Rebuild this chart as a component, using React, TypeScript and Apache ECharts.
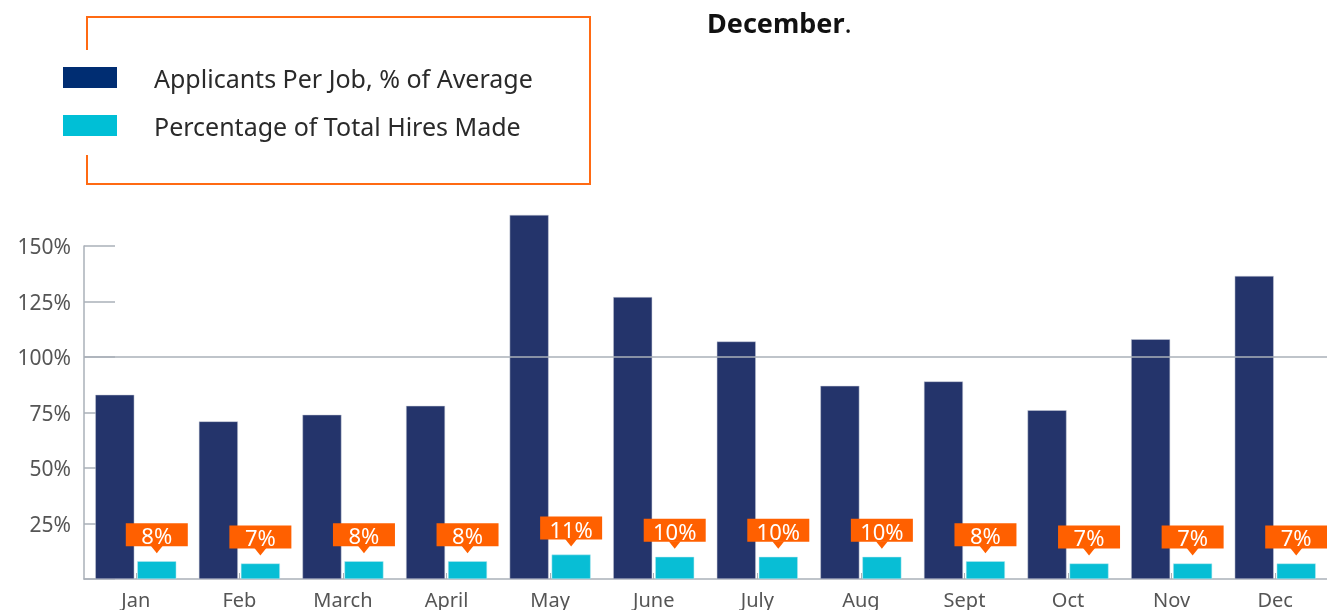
import React, { useEffect, useRef } from "react";
import * as echarts from "echarts";

const months = ["Jan", "Feb", "March", "April", "May", "June", "July", "Aug", "Sept", "Oct", "Nov", "Dec"];
const applicantsPerJob = [83, 71, 74, 78, 164, 127, 107, 87, 89, 76, 108, 136.5];
const hiresMade = [8, 7, 8, 8, 11, 10, 10, 10, 8, 7, 7, 7];
const seriesNames = ["Applicants Per Job, % of Average", "Percentage of Total Hires Made"];
const titleText = "December";

const FONT = "Noto Sans";
const BAR_W = 39;
const BAR_GAP = 3;

export default function App() {
  const ref = useRef<HTMLDivElement>(null);
  useEffect(() => {
    if (!ref.current) return;
    const chart = echarts.init(ref.current, null, { renderer: "svg" });
    const offset = (BAR_W + BAR_GAP) / 2;
    chart.setOption({
      animation: false,
      textStyle: { fontFamily: FONT },
      title: {
        text: `{b|${titleText}}{n|.}`,
        left: 707,
        top: 4,
        padding: 0,
        textStyle: {
          rich: {
            b: { fontFamily: FONT, fontWeight: "bold", fontSize: 27, color: "#111", lineHeight: 36 },
            n: { fontFamily: FONT, fontWeight: "normal", fontSize: 27, color: "#111", lineHeight: 36 },
          },
        },
      },
      legend: {
        orient: "vertical",
        left: 63,
        top: 65,
        padding: 0,
        itemWidth: 54,
        itemHeight: 21,
        itemGap: 23,
        icon: "rect",
        selectedMode: false,
        data: [
          { name: seriesNames[0], itemStyle: { color: "#002D72", borderWidth: 0 } },
          { name: seriesNames[1], itemStyle: { color: "#00BFD6", borderWidth: 0 } },
        ],
        textStyle: {
          fontFamily: FONT,
          fontSize: 25,
          color: "#2a2a2a",
          lineHeight: 21,
          padding: [0, 0, 0, 32],
        },
      },
      graphic: [
        {
          type: "polyline",
          shape: { points: [[87, 50], [87, 17], [590, 17], [590, 184], [87, 184], [87, 155]] },
          style: { stroke: "#FF6A13", lineWidth: 2, fill: null },
        },
      ],
      grid: { left: 84, right: 0, top: 246, bottom: 31 },
      xAxis: {
        type: "category",
        data: months,
        axisLine: { lineStyle: { color: "#aab0b8", width: 1.5 } },
        axisTick: { show: true, inside: true, alignWithLabel: true, length: 6, lineStyle: { color: "#aab0b8" } },
        axisLabel: { fontFamily: FONT, fontSize: 20, color: "#555", margin: 10 },
      },
      yAxis: {
        type: "value",
        min: 0,
        max: 150,
        interval: 25,
        axisLine: { show: true, lineStyle: { color: "#aab0b8", width: 1.5 } },
        axisTick: { show: true, inside: true, length: 31, lineStyle: { color: "#aab0b8", width: 1.5 } },
        splitLine: { show: false },
        axisLabel: {
          fontFamily: FONT,
          fontSize: 21,
          color: "#555",
          margin: 13,
          formatter: (v: number) => (v === 0 ? "" : `${v}%`),
        },
      },
      series: [
        {
          name: seriesNames[0],
          type: "bar",
          data: applicantsPerJob,
          barWidth: BAR_W,
          barGap: `${(BAR_GAP / BAR_W) * 100}%`,
          clip: false,
          itemStyle: { color: "#24346B", borderColor: "#c8ccd8", borderWidth: 0.5 },
          markLine: {
            silent: true,
            symbol: "none",
            label: { show: false },
            lineStyle: { color: "#aab0b8", width: 1.5, type: "solid" },
            data: [{ yAxis: 100 }],
          },
          z: 2,
        },
        {
          name: seriesNames[1],
          type: "bar",
          data: hiresMade,
          barWidth: BAR_W,
          itemStyle: { color: "#08BED5", borderColor: "#bde9ef", borderWidth: 0.5 },
          z: 2,
        },
        {
          name: "callouts",
          type: "custom",
          coordinateSystem: "cartesian2d",
          data: hiresMade.map((v, i) => [i, v]),
          encode: { x: 0, y: 1 },
          z: 5,
          renderItem: (params: any, api: any) => {
            const i = api.value(0);
            const v = api.value(1);
            const p = api.coord([i, v]);
            const cx = p[0] + offset;
            const bottom = p[1] - 15;
            const top = bottom - 23;
            return {
              type: "group",
              children: [
                {
                  type: "rect",
                  shape: { x: cx - 31, y: top, width: 62, height: 23 },
                  style: { fill: "#FF6000" },
                },
                {
                  type: "polygon",
                  shape: { points: [[cx - 6, bottom - 0.5], [cx + 6, bottom - 0.5], [cx, bottom + 7]] },
                  style: { fill: "#FF6000" },
                },
                {
                  type: "text",
                  style: {
                    text: `${v}%`,
                    x: cx,
                    y: top + 12,
                    align: "center",
                    verticalAlign: "middle",
                    fill: "#fff",
                    fontSize: 22,
                    fontFamily: FONT,
                  },
                },
              ],
            };
          },
        },
      ],
    });
    return () => chart.dispose();
  }, []);
  return <div ref={ref} style={{ position: "fixed", left: 0, top: 0, width: 1327, height: 610 }} />;
}
